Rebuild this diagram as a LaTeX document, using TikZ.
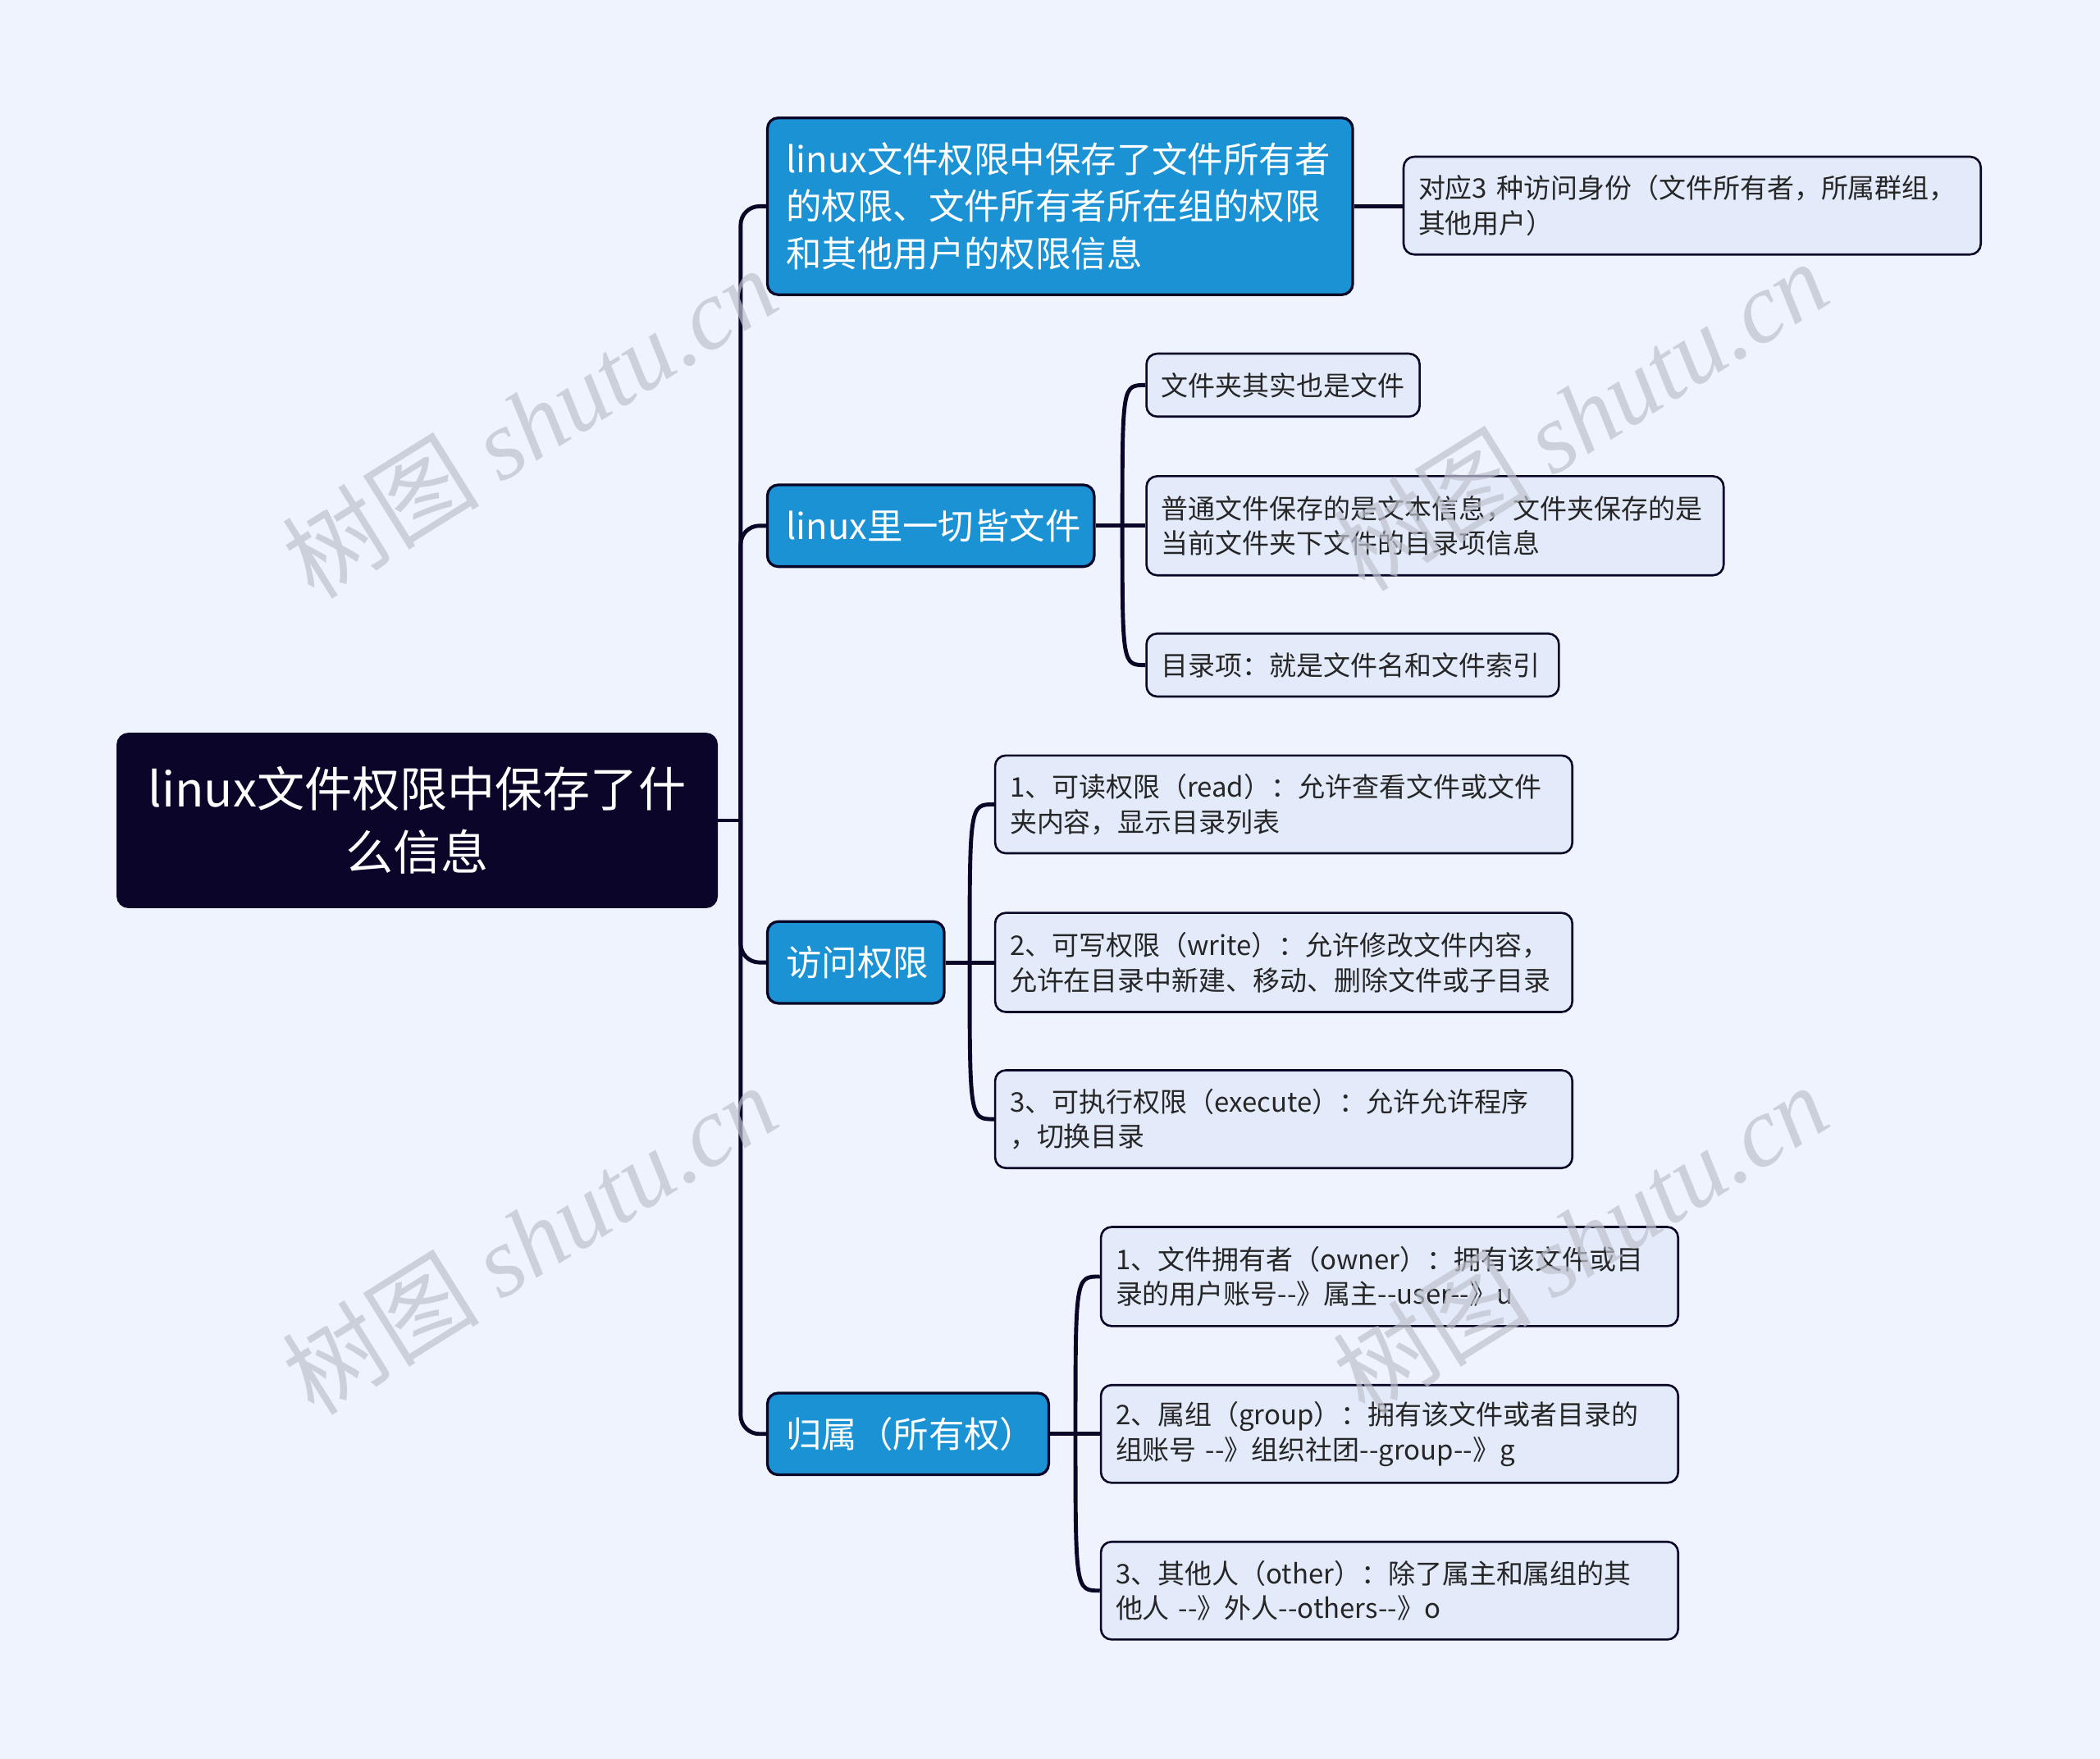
\documentclass[tikz,border=0pt]{standalone}
\usepackage{fontspec}
\setmainfont{Noto Sans CJK SC}
\newfontfamily\wmlatin{Liberation Serif}
\newcommand\dblhyph{-\kern0pt-}
\usetikzlibrary{calc}
\definecolor{bgc}{RGB}{238,243,254}
\definecolor{rootc}{RGB}{10,5,41}
\definecolor{branchc}{RGB}{27,146,212}
\definecolor{leafc}{RGB}{227,235,251}
\definecolor{linec}{RGB}{10,6,40}
\definecolor{wmc}{RGB}{190,194,205}
\tikzset{
  rootbox/.style={draw=rootc, fill=rootc, text=white, rounded corners=4pt, line width=1pt,
    minimum width=223.5pt, minimum height=64.5pt, align=center,
    font=\fontsize{17.8pt}{23.5pt}\selectfont},
  branchbox/.style={draw=linec, fill=branchc, text=white, rounded corners=4pt, line width=1pt,
    inner xsep=7pt, inner ysep=0pt, align=left,
    font=\fontsize{13.3pt}{17.5pt}\selectfont},
  leafbox/.style={draw=linec, fill=leafc, text=black!85, rounded corners=4pt, line width=0.8pt,
    inner xsep=5.5pt, inner ysep=0pt, align=left,
    font=\fontsize{10.1pt}{13pt}\selectfont},
  conn/.style={draw=linec, line width=1.5pt},
  wm/.style={text=wmc, opacity=0.7, font=\fontsize{37pt}{40pt}\selectfont, rotate=32, inner sep=0pt}
}
\begin{document}
\begin{tikzpicture}[x=0.5pt,y=-0.5pt]
\fill[bgc] (0,0) rectangle (1568,1313);
\useasboundingbox (0,0) rectangle (1568,1313);

% root
\node[rootbox] (root) at (311.5,612.5) {linux文件权限中保存了什\\么信息};

% branches
\node[branchbox, text width=204.5pt, minimum height=66pt] (b1) at (791.5,154)
  {linux文件权限中保存了文件所有者\\的权限、文件所有者所在组的权限\\和其他用户的权限信息};
\node[branchbox, text width=108pt, minimum height=30.5pt] (b2) at (695,392.5) {linux里一切皆文件};
\node[branchbox, text width=52pt, minimum height=30.5pt] (b3) at (639,718.5) {访问权限};
\node[branchbox, text width=91pt, minimum height=30.5pt] (b4) at (678,1070.5) {归属（所有权）};

% leaves
\node[leafbox, text width=204.5pt, minimum height=36.5pt] (l1a) at (1263.5,153.5)
  {对应3 种访问身份（文件所有者，所属群组，\\其他用户）};

\node[leafbox, text width=91pt, minimum height=23.5pt] (l2a) at (958,287.5) {文件夹其实也是文件};
\node[leafbox, text width=204.5pt, minimum height=37pt] (l2b) at (1071.5,392.5)
  {普通文件保存的是文本信息，文件夹保存的是\\当前文件夹下文件的目录项信息};
\node[leafbox, text width=143pt, minimum height=23.5pt] (l2c) at (1010,496.5) {目录项：就是文件名和文件索引};

\node[leafbox, text width=204.5pt, minimum height=36.5pt] (l3a) at (958.5,600.5)
  {1、可读权限（read）：允许查看文件或文件\\夹内容，显示目录列表};
\node[leafbox, text width=204.5pt, minimum height=37pt] (l3b) at (958.5,718.5)
  {2、可写权限（write）：允许修改文件内容，\\允许在目录中新建、移动、删除文件或子目录};
\node[leafbox, text width=204.5pt, minimum height=36.5pt] (l3c) at (958.5,835.5)
  {3、可执行权限（execute）：允许允许程序\\，切换目录};

\node[leafbox, text width=204.5pt, minimum height=37pt] (l4a) at (1037.5,953)
  {1、文件拥有者（owner）：拥有该文件或目\\录的用户账号\dblhyph》属主\dblhyph user\dblhyph》u};
\node[leafbox, text width=204.5pt, minimum height=36.5pt] (l4b) at (1037.5,1070.5)
  {2、属组（group）：拥有该文件或者目录的\\组账号 \dblhyph》组织社团\dblhyph group\dblhyph》g};
\node[leafbox, text width=204.5pt, minimum height=36.5pt] (l4c) at (1037.5,1187.5)
  {3、其他人（other）：除了属主和属组的其\\他人 \dblhyph》外人\dblhyph others\dblhyph》o};

% trunk
\coordinate (hub) at (553,612.5);
\draw[conn] (root.east) -- (hub);
\foreach \b in {b1,b2,b3,b4}{
  \draw[conn, rounded corners=7pt] (hub) |- (\b.west);
}

% branch 1 leaf
\draw[conn] (b1.east) -- (b1.east -| l1a.west);

% branch 2 leaves
\coordinate (h2) at (838,392.5);
\draw[conn] (b2.east) -- (h2);
\draw[conn] (h2) .. controls (h2 |- l2a.west) .. (l2a.west);
\draw[conn] (h2) -- (l2b.west);
\draw[conn] (h2) .. controls (h2 |- l2c.west) .. (l2c.west);

% branch 3 leaves
\coordinate (h3) at (724,718.5);
\draw[conn] (b3.east) -- (h3);
\draw[conn] (h3) .. controls (h3 |- l3a.west) .. (l3a.west);
\draw[conn] (h3) -- (l3b.west);
\draw[conn] (h3) .. controls (h3 |- l3c.west) .. (l3c.west);

% branch 4 leaves
\coordinate (h4) at (803,1070.5);
\draw[conn] (b4.east) -- (h4);
\draw[conn] (h4) .. controls (h4 |- l4a.west) .. (l4a.west);
\draw[conn] (h4) -- (l4b.west);
\draw[conn] (h4) .. controls (h4 |- l4c.west) .. (l4c.west);

% watermarks
\node[wm] (wm1) at (395,315) {树图 {\wmlatin\itshape shutu.cn}};
\node[wm] (wm2) at (395,925) {树图 {\wmlatin\itshape shutu.cn}};
\node[wm] (wm3) at (1180,310) {树图 {\wmlatin\itshape shutu.cn}};
\node[wm] (wm4) at (1180,925) {树图 {\wmlatin\itshape shutu.cn}};
\end{tikzpicture}
\end{document}
